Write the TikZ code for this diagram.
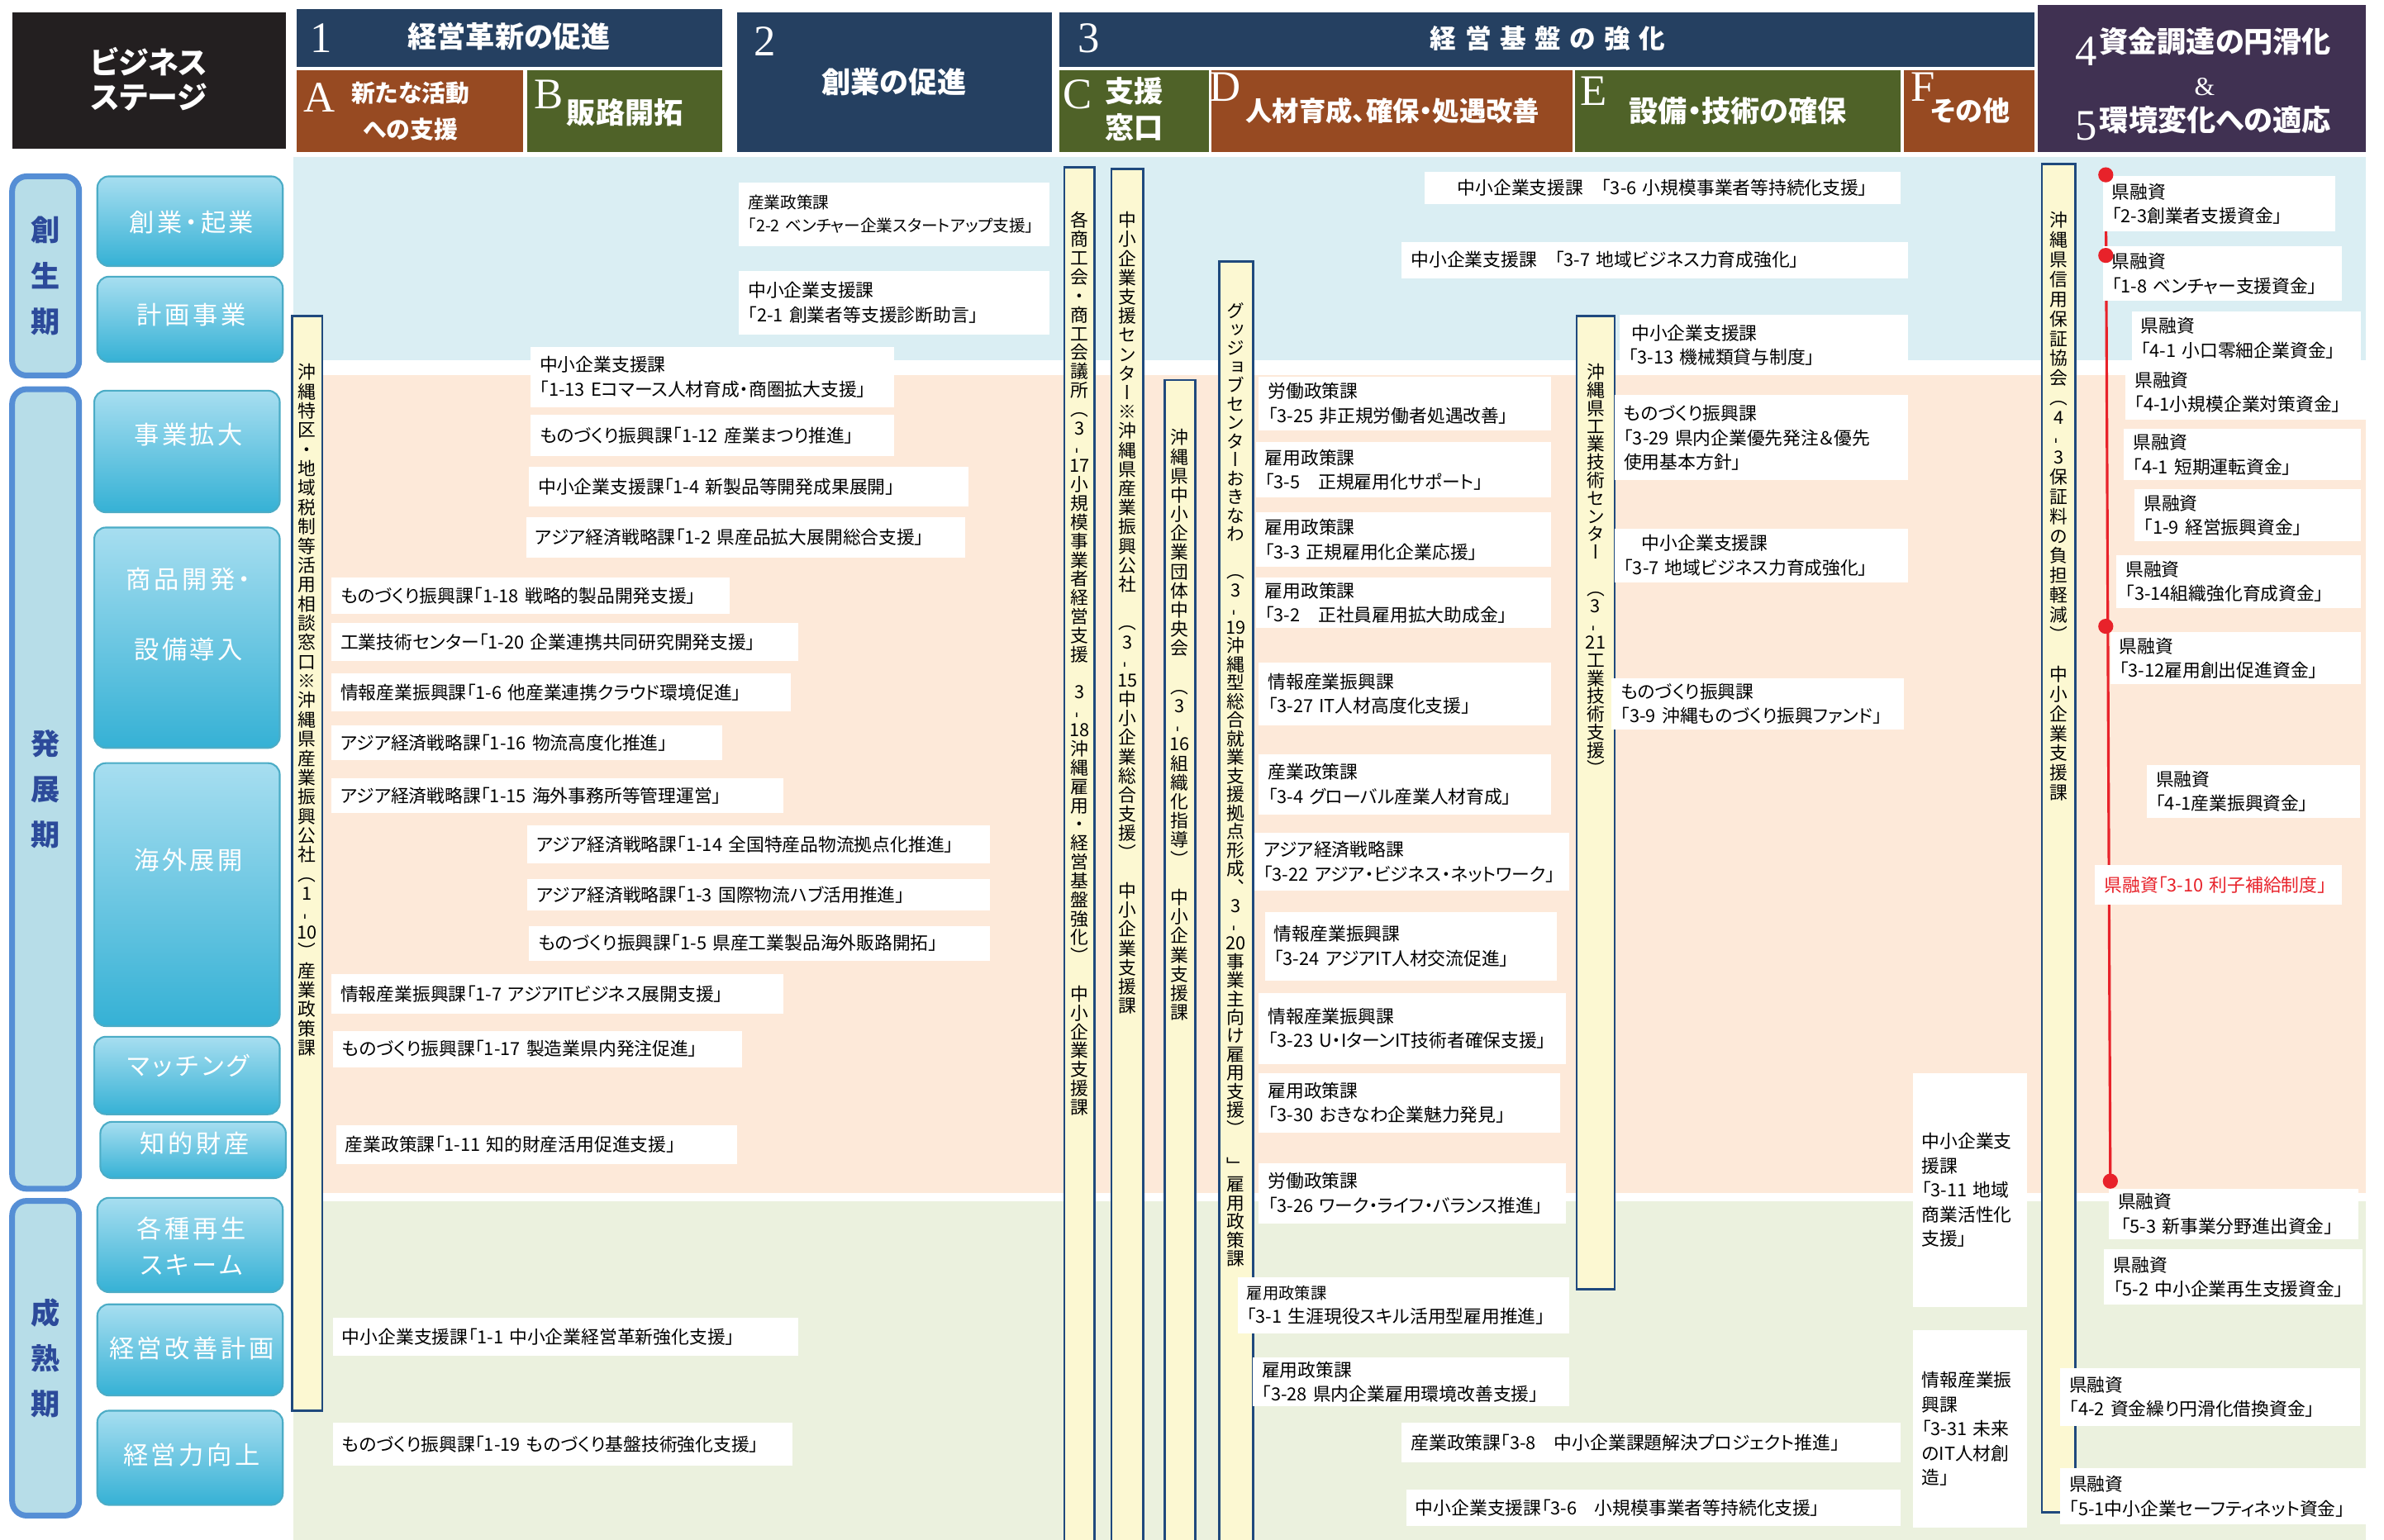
\documentclass[tikz,border=0pt]{standalone}
\usepackage{fontspec}
\usepackage{graphicx}
\setmainfont{Noto Sans CJK JP}[RawFeature=+palt]
\newfontfamily\jpv{Noto Sans CJK JP}[RawFeature=+vert]
\newfontfamily\serifnum{Liberation Serif}
\definecolor{navy}{HTML}{254061}
\definecolor{brownh}{HTML}{974A22}
\definecolor{oliveh}{HTML}{4F6228}
\definecolor{purpleh}{HTML}{403152}
\definecolor{blackh}{HTML}{231F20}
\definecolor{bandblue}{HTML}{DAEEF3}
\definecolor{bandpeach}{HTML}{FDE9D9}
\definecolor{bandgreen}{HTML}{EBF1DE}
\definecolor{barfill}{HTML}{FCF8D2}
\definecolor{barline}{HTML}{1F497D}
\definecolor{periodfill}{HTML}{B7DDE8}
\definecolor{periodedge}{HTML}{558ED5}
\definecolor{periodtext}{HTML}{2C4A9A}
\definecolor{stagetop}{HTML}{A7DEF0}
\definecolor{stagebot}{HTML}{35B1D5}
\definecolor{stageedge}{HTML}{4BACC6}
\definecolor{dotred}{HTML}{E8222A}
\newcommand\vd{\rotatebox[origin=c]{90}{-}}
\ExplSyntaxOn
\NewDocumentCommand\tatetxt{O{6.4pt}m}
 {
  \vbox:n
   {
    \jpv
    \skip_set:Nn \baselineskip {#1}
    \dim_set:Nn \lineskiplimit {-20pt}
    \tl_map_inline:nn {#2} { \hbox_to_wd:nn {1.3em} { \hss ##1 \hss } }
   }
 }
\ExplSyntaxOff
\tikzset{
 hbst/.style={fill=#1, draw=none, inner sep=0},
 htext/.style={text=white, font=\fontsize{10}{12.5}\selectfont\bfseries, align=center, inner sep=0},
 hnum/.style={text=white, font=\serifnum\fontsize{15}{15}\selectfont, inner sep=0},
 tbox/.style={fill=white, draw=none, inner sep=0, align=left},
 stage/.style={draw=stageedge, line width=0.6pt, rounded corners=4pt, top color=stagetop, bottom color=stagebot, inner sep=0},
 stagetxt/.style={text=white, font=\fontsize{8.6}{12.5}\selectfont\addfontfeature{LetterSpace=12}, align=center, inner sep=0},
 period/.style={draw=periodedge, line width=2pt, rounded corners=5pt, fill=periodfill, text=periodtext, font=\fontsize{10}{15.7}\selectfont\bfseries, align=center, inner sep=0},
 ybar/.style={fill=barfill, draw=barline, line width=0.8pt, inner sep=0},
 vtxt/.style={inner sep=0, anchor=north, font=\fontsize{6.2}{6.4}\selectfont},
 rdot/.style={circle, fill=dotred, inner sep=0, minimum size=5.2pt},
 redline/.style={draw=dotred, line width=0.9pt},
}
\newcommand\bx[7][]{%
 \pgfmathsetmacro\bxw{(#5-#3)*0.0184}%
 \pgfmathsetmacro\bxh{(#6-#4)*0.0184}%
 \pgfmathsetmacro\bxt{(#5-#3-12)*0.0184}%
 \node[tbox, minimum width=\bxw cm, minimum height=\bxh cm, text width=\bxt cm, #1] (#2) at ({(#3+#5)/2},{(#4+#6)/2}) {#7};}
\newcommand\shape[7][]{%
 \pgfmathsetmacro\bxw{(#5-#3)*0.0184}%
 \pgfmathsetmacro\bxh{(#6-#4)*0.0184}%
 \node[minimum width=\bxw cm, minimum height=\bxh cm, #1] (#2) at ({(#3+#5)/2},{(#4+#6)/2}) {#7};}
\begin{document}
\begin{tikzpicture}[x=0.0184cm,y=-0.0184cm, font=\fontsize{6.2}{8.4}\selectfont]
\useasboundingbox (0,0) rectangle (1568,1013);
\fill[white] (0,0) rectangle (1568,1013);
% bands
\fill[bandblue] (193,103) rectangle (1556,237);
\fill[bandpeach] (193,247) rectangle (1556,785);
\fill[bandgreen] (193,790) rectangle (1556,1013);
% header
\shape[hbst=blackh]{hbs}{8}{8}{188}{98}{}
\node[htext, font=\fontsize{10.5}{12}\selectfont\bfseries] (hbs-t) at (98,52) {ビジネス\\ステージ};
\shape[hbst=navy]{h1}{195}{6}{475}{44}{}
\node[hnum] (h1-n) at (211,25) {1};
\node[htext] (h1-t) at (335,24) {経営革新の促進};
\shape[hbst=brownh]{hA}{195}{46}{344}{100}{}
\node[hnum] (hA-n) at (210,64) {A};
\node[htext, font=\fontsize{8.2}{9}\selectfont\bfseries] (hA-t1) at (270,61) {新たな活動};
\node[htext, font=\fontsize{8.2}{9}\selectfont\bfseries] (hA-t2) at (270,85) {への支援};
\shape[hbst=oliveh]{hB}{347}{46}{475}{100}{}
\node[hnum] (hB-n) at (361,62) {B};
\node[htext] (hB-t) at (411,74) {販路開拓};
\shape[hbst=navy]{h2}{485}{8}{692}{100}{}
\node[hnum] (h2-n) at (503,27) {2};
\node[htext] (h2-t) at (588,54) {創業の促進};
\shape[hbst=navy]{h3}{697}{8}{1338}{44}{}
\node[hnum] (h3-n) at (716,25) {3};
\node[htext, font=\fontsize{9}{11}\selectfont\bfseries] (h3-t) at (1018,25) {経\,\,営\,\,基\,\,盤\,\,の\,\,強\,\,化};
\shape[hbst=oliveh]{hC}{697}{46}{795}{100}{}
\node[hnum] (hC-n) at (709,62) {C};
\node[htext] (hC-t) at (746,72) {支援\\窓口};
\shape[hbst=brownh]{hD}{797}{46}{1034}{100}{}
\node[hnum] (hD-n) at (806,57) {D};
\node[htext, font=\fontsize{9.2}{11}\selectfont\bfseries] (hD-t) at (916,73) {人材育成、確保・処遇改善};
\shape[hbst=oliveh]{hE}{1036}{46}{1250}{100}{}
\node[hnum] (hE-n) at (1048,60) {E};
\node[htext] (hE-t) at (1143,73) {設備・技術の確保};
\shape[hbst=brownh]{hF}{1252}{46}{1338}{100}{}
\node[hnum] (hF-n) at (1265,57) {F};
\node[htext, font=\fontsize{9.4}{11}\selectfont\bfseries] (hF-t) at (1296,73) {その他};
\shape[hbst=purpleh]{h45}{1340}{3}{1556}{100}{}
\node[hnum] (h4-n) at (1372,34) {4};
\node[htext] (h4-t) at (1457,27) {資金調達の円滑化};
\node[hnum, font=\serifnum\fontsize{9}{9}\selectfont] (h45-amp) at (1450,57) {\&};
\node[hnum] (h5-n) at (1372,83) {5};
\node[htext] (h5-t) at (1457,79) {環境変化への適応};
% periods
\shape[period]{p1}{8}{116}{52}{247}{創\\生\\期}
\shape[period]{p2}{8}{256}{52}{782}{発\\展\\期}
\shape[period]{p3}{8}{790}{52}{997}{成\\熟\\期}
% stages
\shape[stage]{s1}{64}{116}{186}{175}{}
\node[stagetxt] (s1-t) at (126,146) {創業・起業};
\shape[stage]{s2}{64}{182}{186}{238}{}
\node[stagetxt] (s2-t) at (126,207) {計画事業};
\shape[stage]{s3}{62}{257}{184}{337}{}
\node[stagetxt] (s3-t) at (124,286) {事業拡大};
\shape[stage]{s4}{62}{347}{184}{492}{}
\node[stagetxt] (s4-t1) at (124,381) {商品開発・};
\node[stagetxt] (s4-t2) at (124,427) {設備導入};
\shape[stage]{s5}{62}{502}{184}{675}{}
\node[stagetxt] (s5-t) at (124,566) {海外展開};
\shape[stage]{s6}{62}{682}{184}{733}{}
\node[stagetxt] (s6-t) at (124,701) {マッチング};
\shape[stage]{s7}{66}{738}{188}{775}{}
\node[stagetxt] (s7-t) at (128,752) {知的財産};
\shape[stage]{s8}{64}{788}{186}{850}{}
\node[stagetxt] (s8-t) at (126,820) {各種再生\\スキーム};
\shape[stage]{s9}{64}{858}{186}{918}{}
\node[stagetxt] (s9-t) at (126,887) {経営改善計画};
\shape[stage]{s10}{64}{928}{186}{990}{}
\node[stagetxt] (s10-t) at (126,957) {経営力向上};
% vertical bars
\shape[ybar]{v1}{192}{208}{212}{928}{}
\node[vtxt] (v1-t) at (202,239) {\tatetxt[6.65pt]{沖縄特区・地域税制等活用相談窓口※沖縄県産業振興公社（1\vd{10}）産業政策課}};
\shape[ybar]{v2}{700}{110}{720}{1016}{}
\node[vtxt] (v2-t) at (710,139) {\tatetxt[6.5pt]{各商工会・商工会議所（3\vd{17}小規模事業者経営支援~3\vd{18}沖縄雇用・経営基盤強化）~中小企業支援課}};
\shape[ybar]{v3}{731}{111}{752}{1016}{}
\node[vtxt] (v3-t) at (741.5,139) {\tatetxt[6.6pt]{中小企業支援センター※沖縄県産業振興公社~（3\vd{15}中小企業総合支援）~中小企業支援課}};
\shape[ybar]{v4}{766}{250}{786}{1016}{}
\node[vtxt] (v4-t) at (776,282) {\tatetxt[6.6pt]{沖縄県中小企業団体中央会~（3\vd{16}組織化指導）~中小企業支援課}};
\shape[ybar]{v5}{802}{172}{824}{1016}{}
\node[vtxt] (v5-t) at (813,199) {\tatetxt[6.4pt]{グッジョブセンターおきなわ~（3\vd{19}沖縄型総合就業支援拠点形成、3\vd{20}事業主向け雇用支援）~」雇用政策課}};
\shape[ybar]{v6}{1037}{208}{1062}{848}{}
\node[vtxt] (v6-t) at (1049.5,239) {\tatetxt[6.2pt]{沖縄県工業技術センター~（3\vd{21}工業技術支援）}};
\shape[ybar]{v7}{1343}{108}{1365}{995}{}
\node[vtxt] (v7-t) at (1354,139) {\tatetxt[6.8pt]{沖縄県信用保証協会（4\vd 3保証料の負担軽減）~中小企業支援課}};
% red line
\coordinate (r1) at (1385,115);
\coordinate (r2) at (1385,168);
\coordinate (r3) at (1385,412);
\coordinate (r4) at (1388,777);
\draw[redline] (r1) -- (r4);
% column 1
\bx{b113}{349}{228}{588}{268}{中小企業支援課\\「1-13 Eコマース人材育成・商圏拡大支援」}
\bx{b112}{349}{273}{588}{300}{ものづくり振興課「1-12 産業まつり推進」}
\bx{b14}{348}{307}{637}{333}{中小企業支援課「1-4 新製品等開発成果展開」}
\bx{b12}{346}{340}{635}{367}{アジア経済戦略課「1-2 県産品拡大展開総合支援」}
\bx{b118}{218}{380}{480}{404}{ものづくり振興課「1-18 戦略的製品開発支援」}
\bx{b120}{218}{410}{525}{435}{工業技術センター「1-20 企業連携共同研究開発支援」}
\bx{b16}{218}{443}{520}{468}{情報産業振興課「1-6 他産業連携クラウド環境促進」}
\bx{b116}{218}{477}{475}{500}{アジア経済戦略課「1-16 物流高度化推進」}
\bx{b115}{218}{512}{515}{535}{アジア経済戦略課「1-15 海外事務所等管理運営」}
\bx{b114}{347}{543}{651}{568}{アジア経済戦略課「1-14 全国特産品物流拠点化推進」}
\bx{b13}{347}{578}{651}{599}{アジア経済戦略課「1-3 国際物流ハブ活用推進」}
\bx{b15}{348}{609}{651}{632}{ものづくり振興課「1-5 県産工業製品海外販路開拓」}
\bx{b17}{218}{641}{515}{667}{情報産業振興課「1-7 アジアITビジネス展開支援」}
\bx{b117}{219}{678}{488}{702}{ものづくり振興課「1-17 製造業県内発注促進」}
\bx{b111}{221}{740}{485}{766}{産業政策課「1-11 知的財産活用促進支援」}
\bx{b11}{219}{867}{525}{892}{中小企業支援課「1-1 中小企業経営革新強化支援」}
\bx{b119}{219}{936}{521}{964}{ものづくり振興課「1-19 ものづくり基盤技術強化支援」}
% column 2
\bx[font=\fontsize{5.6}{8}\selectfont]{b22}{486}{120}{690}{162}{産業政策課\\「2-2 ベンチャー企業スタートアップ支援」}
\bx{b21}{486}{178}{690}{220}{中小企業支援課\\「2-1 創業者等支援診断助言」}
% column 3 (E)
\bx[align=center]{b36a}{937}{113}{1250}{134}{中小企業支援課\quad「3-6 小規模事業者等持続化支援」}
\bx{b37a}{922}{159}{1255}{183}{中小企業支援課\quad「3-7 地域ビジネス力育成強化」}
\bx{b313}{1065}{207}{1255}{247}{\,中小企業支援課\\「3-13 機械類貸与制度」}
\bx{b329}{1062}{260}{1255}{316}{ものづくり振興課\\「3-29 県内企業優先発注＆優先\\使用基本方針」}
\bx{b37b}{1062}{348}{1255}{383}{\quad 中小企業支援課\\「3-7 地域ビジネス力育成強化」}
\bx{b39}{1060}{446}{1252}{480}{ものづくり振興課\\「3-9 沖縄ものづくり振興ファンド」}
% column D
\bx{b325}{828}{248}{1020}{283}{労働政策課\\「3-25 非正規労働者処遇改善」}
\bx{b35}{826}{291}{1020}{327}{雇用政策課\\「3-5　正規雇用化サポート」}
\bx{b33}{826}{337}{1020}{373}{雇用政策課\\「3-3 正規雇用化企業応援」}
\bx{b32}{826}{380}{1020}{413}{雇用政策課\\「3-2　正社員雇用拡大助成金」}
\bx{b327}{828}{436}{1020}{477}{情報産業振興課\\「3-27 IT人材高度化支援」}
\bx{b34}{828}{496}{1020}{536}{産業政策課\\「3-4 グローバル産業人材育成」}
\bx{b322}{825}{548}{1032}{586}{アジア経済戦略課\\「3-22 アジア・ビジネス・ネットワーク」}
\bx{b324}{832}{600}{1024}{645}{情報産業振興課\\「3-24 アジアIT人材交流促進」}
\bx{b323}{828}{653}{1030}{700}{情報産業振興課\\「3-23 U・IターンIT技術者確保支援」}
\bx{b330}{828}{706}{1026}{745}{雇用政策課\\「3-30 おきなわ企業魅力発見」}
\bx{b326}{828}{765}{1030}{805}{労働政策課\\「3-26 ワーク・ライフ・バランス推進」}
\bx{b31}{814}{840}{1032}{877}{{\fontsize{5.5}{7}\selectfont 雇用政策課}\\「3-1 生涯現役スキル活用型雇用推進」}
\bx{b328}{824}{893}{1032}{925}{雇用政策課\\「3-28 県内企業雇用環境改善支援」}
\bx{b38}{922}{936}{1250}{962}{産業政策課「3-8　中小企業課題解決プロジェクト推進」}
\bx{b36b}{925}{980}{1250}{1004}{中小企業支援課「3-6　小規模事業者等持続化支援」}
% column F
\bx{b311}{1258}{706}{1333}{860}{中小企業支\\援課\\「3-11 地域\\商業活性化\\支援」}
\bx{b331}{1258}{875}{1333}{1005}{情報産業振\\興課\\「3-31 未来\\のIT人材創\\造」}
% column 4/5
\bx{f23}{1383}{116}{1536}{152}{県融資\\「2-3創業者支援資金」}
\bx{f18}{1383}{162}{1540}{198}{県融資\\「1-8 ベンチャー支援資金」}
\bx{f41a}{1402}{205}{1553}{240}{県融資\\「4-1 小口零細企業資金」}
\bx{f41b}{1398}{240}{1556}{276}{県融資\\「4-1小規模企業対策資金」}
\bx{f41c}{1397}{282}{1553}{316}{県融資\\「4-1 短期運転資金」}
\bx{f19}{1404}{322}{1553}{356}{県融資\\「1-9 経営振興資金」}
\bx{f314}{1392}{365}{1553}{400}{県融資\\「3-14組織強化育成資金」}
\bx{f312}{1388}{416}{1553}{450}{県融資\\「3-12雇用創出促進資金」}
\bx{f41d}{1412}{503}{1552}{538}{県融資\\「4-1産業振興資金」}
\bx[text=dotred]{f310}{1378}{569}{1540}{595}{県融資「3-10 利子補給制度」}
\bx{f53}{1387}{782}{1551}{815}{県融資\\\,「5-3 新事業分野進出資金」}
\bx{f52}{1384}{822}{1554}{858}{県融資\\「5-2 中小企業再生支援資金」}
\bx{f42}{1355}{900}{1552}{938}{県融資\\「4-2 資金繰り円滑化借換資金」}
\bx{f51}{1355}{966}{1556}{1003}{県融資\\「5-1中小企業セーフティネット資金」}
% red dots
\node[rdot] (d1) at (r1) {};
\node[rdot] (d2) at (r2) {};
\node[rdot] (d3) at (r3) {};
\node[rdot] (d4) at (r4) {};
\end{tikzpicture}
\end{document}
